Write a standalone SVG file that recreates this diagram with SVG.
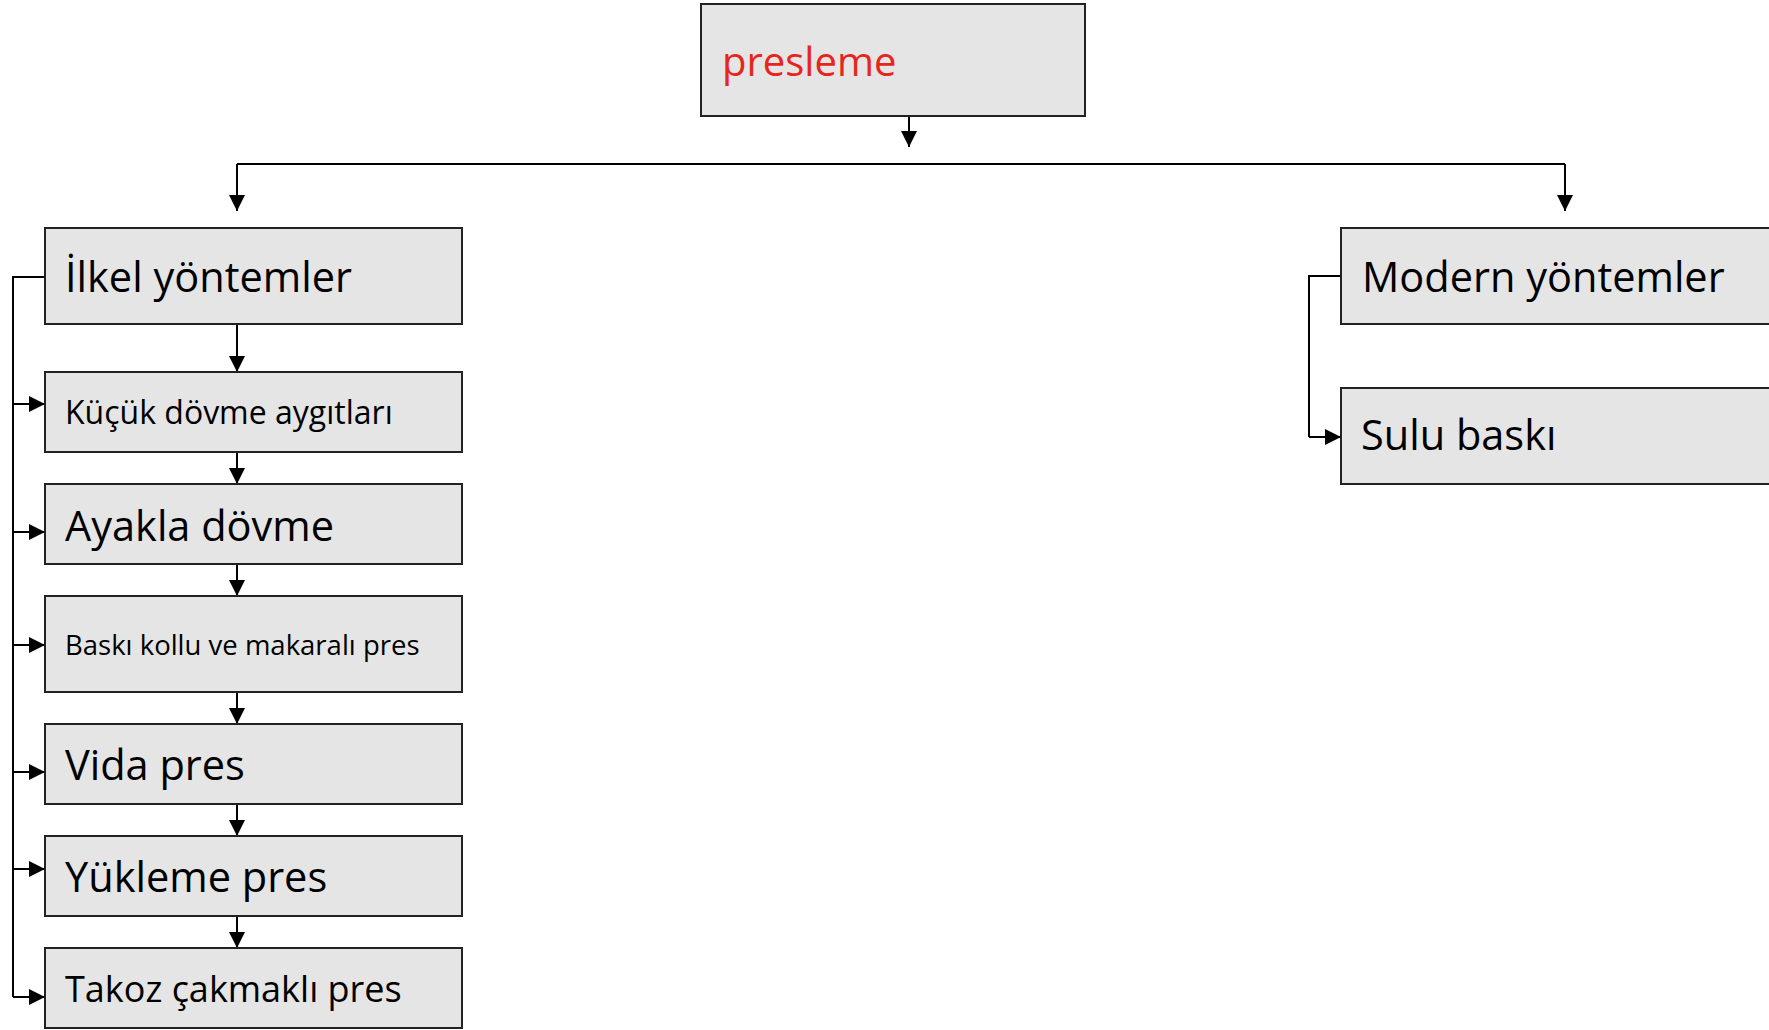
<svg xmlns="http://www.w3.org/2000/svg" width="1769" height="1030" viewBox="0 0 1769 1030">
<style>
.box{fill:#e5e5e5;stroke:#222;stroke-width:2}
.t{font-family:"Open Sans","Noto Sans",sans-serif;fill:#000}
.big{font-size:41.5px}
.c{fill:none;stroke:#000;stroke-width:2}
.a{marker-end:url(#ah)}
</style>
<defs>
<marker id="ah" markerUnits="userSpaceOnUse" markerWidth="17" markerHeight="17" viewBox="0 0 17 17" refX="16" refY="8.5" orient="auto">
<path d="M0,0.5 L16,8.5 L0,16.5 z" fill="#000"/>
</marker>
</defs>
<g id="connectors">
<path class="c a" d="M909,116 V147"/>
<path class="c" d="M237,164 H1565"/>
<path class="c a" d="M237,164 V211"/>
<path class="c a" d="M1565,164 V211"/>
<path class="c a" d="M237,324 V372"/>
<path class="c a" d="M237,452 V484"/>
<path class="c a" d="M237,564 V596"/>
<path class="c a" d="M237,692 V724"/>
<path class="c a" d="M237,804 V836"/>
<path class="c a" d="M237,916 V948"/>
<path class="c" d="M45,277 H13 V997"/>
<path class="c a" d="M13,404 H45"/>
<path class="c a" d="M13,532 H45"/>
<path class="c a" d="M13,645 H45"/>
<path class="c a" d="M13,772 H45"/>
<path class="c a" d="M13,869 H45"/>
<path class="c a" d="M13,997 H45"/>
<path class="c" d="M1341,276 H1309 V437"/>
<path class="c a" d="M1309,437 H1341"/>
</g>
<g id="presleme"><rect class="box" x="701" y="4" width="384" height="112"/><text class="t" x="722" y="76" font-size="40" style="fill:#e8251a">presleme</text></g>
<g id="ilkel"><rect class="box" x="45" y="228" width="417" height="96"/><text class="t big" x="65" y="292">İlkel yöntemler</text></g>
<g id="kucuk"><rect class="box" x="45" y="372" width="417" height="80"/><text class="t" x="65" y="424" font-size="32">Küçük dövme aygıtları</text></g>
<g id="ayakla"><rect class="box" x="45" y="484" width="417" height="80"/><text class="t big" x="65" y="541">Ayakla dövme</text></g>
<g id="baski"><rect class="box" x="45" y="596" width="417" height="96"/><text class="t" x="65" y="655" font-size="27.5">Baskı kollu ve makaralı pres</text></g>
<g id="vida"><rect class="box" x="45" y="724" width="417" height="80"/><text class="t big" x="65" y="780">Vida pres</text></g>
<g id="yukleme"><rect class="box" x="45" y="836" width="417" height="80"/><text class="t big" x="65" y="892">Yükleme pres</text></g>
<g id="takoz"><rect class="box" x="45" y="948" width="417" height="80"/><text class="t" x="65" y="1002" font-size="36">Takoz çakmaklı pres</text></g>
<g id="modern"><rect class="box" x="1341" y="228" width="440" height="96"/><text class="t big" x="1362" y="292">Modern yöntemler</text></g>
<g id="sulu"><rect class="box" x="1341" y="388" width="440" height="96"/><text class="t big" x="1361" y="450">Sulu baskı</text></g>
</svg>
